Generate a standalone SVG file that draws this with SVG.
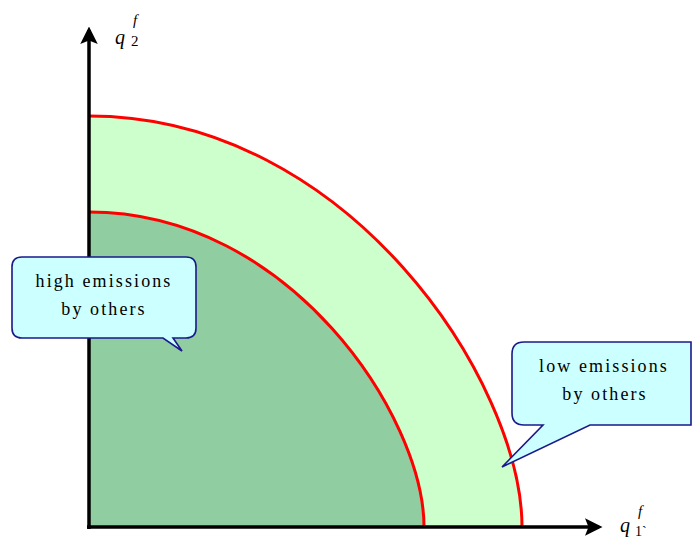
<svg xmlns="http://www.w3.org/2000/svg" width="692" height="541" viewBox="0 0 692 541">
<style>
.curve{stroke:#FF0000;stroke-width:3;}
.axis{stroke:#000;stroke-width:3.5;fill:none;}
.callout{fill:#CCFFFF;stroke:#1A1A8C;stroke-width:1.6;}
.lbl{font-family:"Liberation Serif",serif;font-size:18px;letter-spacing:2.1px;fill:#000;text-anchor:middle;}
.ax{font-family:"Liberation Serif",serif;font-style:italic;fill:#000;}
.sub{font-family:"Liberation Serif",serif;fill:#000;}
</style>
<defs>
<marker id="arr" markerWidth="5" markerHeight="5" refX="4" refY="2.5" orient="auto" markerUnits="strokeWidth">
<path d="M0,0 L5,2.5 L0,5 L1,2.5 Z" fill="#000"/>
</marker>
</defs>
<rect width="692" height="541" fill="#fff"/>
<g id="outer-region">
<path d="M89,116 C349,116 522,383 522,527 L89,527 Z" fill="#CCFFCC" stroke="none"/>
<path d="M89,116 C349,116 522,383 522,527" class="curve" fill="none"/>
</g>
<g id="inner-region">
<path d="M89,212 C290,212 424,417 424,527 L89,527 Z" fill="#90CEA2" stroke="none"/>
<path d="M89,212 C290,212 424,417 424,527" class="curve" fill="none"/>
</g>
<g id="connectors">
<line x1="89" y1="529" x2="89" y2="30" class="axis" marker-end="url(#arr)"/>
<line x1="87" y1="527" x2="599" y2="527" class="axis" marker-end="url(#arr)"/>
</g>
<g id="y-label">
<text class="ax" x="115" y="44" font-size="20">q</text>
<text class="ax" x="133" y="25" font-size="15">f</text>
<text class="sub" x="131" y="46" font-size="15">2</text>
</g>
<g id="x-label">
<text class="ax" x="620" y="532" font-size="20">q</text>
<text class="ax" x="638" y="516" font-size="15">f</text>
<text class="sub" x="635" y="536" font-size="14">1`</text>
</g>
<g id="callout-high">
<path d="M22,257 L186,257 Q196,257 196,267 L196,328 Q196,338 186,338 L173,338 L182,351 L163,338 L22,338 Q12,338 12,328 L12,267 Q12,257 22,257 Z" class="callout"/>
<text class="lbl" x="104" y="287">high emissions</text>
<text class="lbl" x="104" y="315">by others</text>
</g>
<g id="callout-low">
<path d="M524,342 L691,342 L691,425 L590,425 L502,467 L543,425 L524,425 Q512,425 512,413 L512,354 Q512,342 524,342 Z" class="callout"/>
<text class="lbl" x="604" y="372">low emissions</text>
<text class="lbl" x="605" y="400">by others</text>
</g>
</svg>
